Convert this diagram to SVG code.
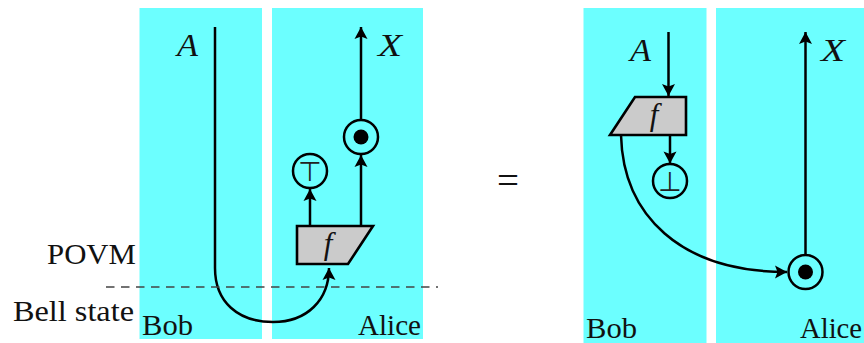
<svg xmlns="http://www.w3.org/2000/svg" width="864" height="343" viewBox="0 0 864 343">
<style>
.reg{fill:#6cffff}
.w{fill:none;stroke:#000;stroke-width:2.5}
.box{fill:#cbcbcb;stroke:#000;stroke-width:2.6;stroke-linejoin:miter}
.c{fill:none;stroke:#000;stroke-width:2.5}
.t{font-family:"Liberation Serif",serif;font-size:30px;fill:#111}
.i{font-family:"Liberation Serif",serif;font-size:31px;font-style:italic;fill:#111}
.dash{stroke:#444;stroke-width:1.3;stroke-dasharray:8.5 6.5;fill:none}
.m{font-family:"DejaVu Sans",sans-serif;font-size:27px;fill:#222}
</style>
<defs>
<marker id="a" markerUnits="userSpaceOnUse" markerWidth="14" markerHeight="14" refX="12" refY="6" orient="auto" overflow="visible">
<path d="M0 -0.500 L12 6 L0 12.500 L2.500 6 Z" fill="#000"/>
</marker>
</defs>
<rect class="reg" x="139.5" y="8" width="122.5" height="331"/>
<rect class="reg" x="272" y="8" width="151" height="331"/>
<rect class="reg" x="583.5" y="8" width="123" height="335"/>
<rect class="reg" x="716" y="8" width="148" height="335"/>
<g id="connectors">
<path class="w" d="M215 27 V268 C215 302 238 322 273 322 C307 322 329 300 329 268" marker-end="url(#a)"/>
<path class="w" d="M310 226 V189" marker-end="url(#a)"/>
<path class="w" d="M361 226 V155" marker-end="url(#a)"/>
<path class="w" d="M361 120 V27" marker-end="url(#a)"/>
<path class="w" d="M668.5 32 V96" marker-end="url(#a)"/>
<path class="w" d="M670 135 V163.500" marker-end="url(#a)"/>
<path class="w" d="M805.500 255 V32" marker-end="url(#a)"/>
<path class="w" d="M621 135 C623 215 680 272 787 272" marker-end="url(#a)"/>
<path class="dash" d="M106 287 H438"/>
</g>
<g id="f-left"><polygon class="box" points="297,226 373,226 348,264 297,264"/><text class="i" x="328" y="254" text-anchor="middle">f</text></g>
<g id="top"><circle class="c" cx="310" cy="171" r="17"/><text class="m" x="310" y="181" text-anchor="middle">⊤</text></g>
<g id="copy-left"><circle class="c" cx="361" cy="137" r="17"/><circle cx="361" cy="137" r="7.500"/></g>
<g id="f-right"><polygon class="box" points="635,97 686,97 686,135 610,135"/><text class="i" x="654" y="125" text-anchor="middle">f</text></g>
<g id="bot"><circle class="c" cx="670" cy="181" r="17"/><text class="m" x="670" y="191" text-anchor="middle">⊥</text></g>
<g id="copy-right"><circle class="c" cx="805.500" cy="272" r="17"/><circle cx="805.500" cy="272" r="7.500"/></g>
<g id="labels">
<text class="i" x="177" y="56" textLength="21" lengthAdjust="spacingAndGlyphs">A</text>
<text class="i" x="378" y="56" textLength="24" lengthAdjust="spacingAndGlyphs">X</text>
<text class="i" x="630" y="61" textLength="21" lengthAdjust="spacingAndGlyphs">A</text>
<text class="i" x="821" y="61" textLength="24" lengthAdjust="spacingAndGlyphs">X</text>
<text class="t" x="47" y="264" textLength="89" lengthAdjust="spacingAndGlyphs">POVM</text>
<text class="t" x="13" y="321" textLength="121" lengthAdjust="spacingAndGlyphs">Bell state</text>
<text class="t" x="142" y="335" textLength="51" lengthAdjust="spacingAndGlyphs">Bob</text>
<text class="t" x="358" y="335" textLength="63" lengthAdjust="spacingAndGlyphs">Alice</text>
<text class="t" x="586" y="338" textLength="51" lengthAdjust="spacingAndGlyphs">Bob</text>
<text class="t" x="800" y="338" textLength="62" lengthAdjust="spacingAndGlyphs">Alice</text>
<text x="508" y="193" text-anchor="middle" style="font-family:'Liberation Serif',serif;font-size:38px;fill:#111" textLength="22" lengthAdjust="spacingAndGlyphs">=</text>
</g>
</svg>
